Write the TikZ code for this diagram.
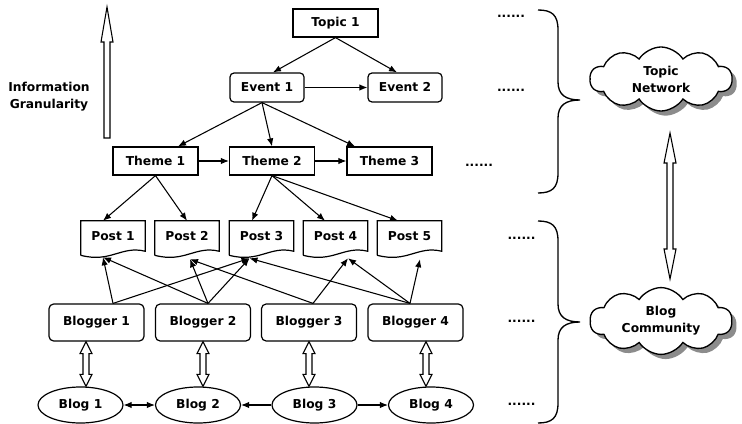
\documentclass[tikz,border=0pt]{standalone}
\usepackage{fontspec}
\setmainfont{DejaVu Sans}
\usetikzlibrary{calc,arrows.meta,shapes.geometric,shapes.symbols,shadows}
\newcommand{\pxu}{0.75pt}
\newcommand{\dhollow}[3]{%
  \draw[hollow] (#1) -- ($(#1)+(6,#3)$) -- ($(#1)+(3,#3)$) -- ($(#2)+(3,-#3)$) -- ($(#2)+(6,-#3)$) -- (#2)
    -- ($(#2)+(-6,-#3)$) -- ($(#2)+(-3,-#3)$) -- ($(#1)+(-3,#3)$) -- ($(#1)+(-6,#3)$) -- cycle;}
\newcommand{\postoutline}[1]{%
  \draw[line width=0.9pt,line join=miter] ($(#1.south west)+(0,4)$) -- (#1.north west) -- (#1.north east) -- (#1.south east)
    .. controls +(-24,-6) and +(30,8) .. ($(#1.south west)+(0,4)$);}
\newcommand{\bracepath}[3]{% top, tip, bottom (y)
  \draw[line width=1pt] (538,#1) .. controls (552,#1) and (558,#1+5) .. (558,#1+20) -- (558,#2-18)
    .. controls (558,#2-5) and (566,#2) .. (580,#2) .. controls (566,#2) and (558,#2+5) .. (558,#2+18)
    -- (558,#3-20) .. controls (558,#3-5) and (552,#3) .. (538,#3);}
\begin{document}
\begin{tikzpicture}[x=0.75pt,y=-0.75pt,
  every node/.style={font=\bfseries\fontsize{9.2}{12.75}\selectfont},
  box/.style={draw,line width=0.9pt,inner sep=0pt},
  topicbox/.style={box,minimum width=85*\pxu,minimum height=28*\pxu},
  eventbox/.style={box,rounded corners=3pt,minimum width=74*\pxu,minimum height=29*\pxu},
  themebox/.style={box,minimum width=85*\pxu,minimum height=28*\pxu},
  postbox/.style={inner sep=0pt,minimum width=64*\pxu,minimum height=30*\pxu},
  bloggerbox/.style={box,rounded corners=3.5pt,minimum width=95*\pxu,minimum height=37*\pxu},
  blogbox/.style={box,ellipse,minimum width=85*\pxu,minimum height=36*\pxu},
  cloudnode/.style={draw,line width=1pt,fill=white,cloud,cloud puffs=10,cloud puff arc=115,aspect=2.2,
     minimum width=142*\pxu,minimum height=64*\pxu,inner sep=0pt,align=center,
     drop shadow={shadow xshift=3.5pt,shadow yshift=-3.5pt,fill=black!45,opacity=1}},
  dots/.style={inner sep=0pt},
  arr/.style={line width=0.8pt,-{Latex[length=6pt,width=4.8pt]}},
  darr/.style={line width=0.8pt,{Latex[length=6pt,width=4.8pt]}-{Latex[length=6pt,width=4.8pt]}},
  hollow/.style={draw,line width=0.8pt,fill=white,line join=miter}]
\useasboundingbox (0,0) rectangle (742,424);

% nodes
\node[topicbox] (T1) at (335.5,23) {Topic 1};
\node[eventbox] (E1) at (267,87.5) {Event 1};
\node[eventbox] (E2) at (405,87.5) {Event 2};
\node[themebox] (H1) at (155.5,161) {Theme 1};
\node[themebox] (H2) at (272,161) {Theme 2};
\node[themebox] (H3) at (389.5,161) {Theme 3};
\node[postbox] (P1) at (113,236) {Post 1};
\node[postbox] (P2) at (187,236) {Post 2};
\node[postbox] (P3) at (261.5,236) {Post 3};
\node[postbox] (P4) at (335.5,236) {Post 4};
\node[postbox] (P5) at (409.5,236) {Post 5};
\postoutline{P1}\postoutline{P2}\postoutline{P3}\postoutline{P4}\postoutline{P5}
\node[bloggerbox] (B1) at (96.5,322.5) {Blogger 1};
\node[bloggerbox] (B2) at (203,322.5) {Blogger 2};
\node[bloggerbox] (B3) at (309,322.5) {Blogger 3};
\node[bloggerbox] (B4) at (415.5,322.5) {Blogger 4};
\node[blogbox] (G1) at (80.5,405) {Blog 1};
\node[blogbox] (G2) at (198,405) {Blog 2};
\node[blogbox] (G3) at (314.5,405) {Blog 3};
\node[blogbox] (G4) at (431,405) {Blog 4};

\node[cloudnode] (TN) at (661,79) {Topic\\Network};
\node[cloudnode] (BC) at (661,321) {Blog\\Community};

\node[align=center] (IG) at (49,97) {Information\\Granularity};

\node[dots] (d1) at (511,16) {......};
\node[dots] (d2) at (511,90) {......};
\node[dots] (d3) at (479,165) {......};
\node[dots] (d4) at (521.5,238) {......};
\node[dots] (d5) at (521.5,321) {......};
\node[dots] (d6) at (521.5,404) {......};

% braces
\bracepath{10}{100}{193}
\bracepath{221}{322}{423}

% tree edges
\draw[arr] (T1.south) -- ($(E1.north)+(6,0)$);
\draw[arr] (T1.south) -- ($(E2.north)+(-8,0)$);
\draw[arr] (E1.east) -- (E2.west);
\draw[arr] ($(E1.south)+(-5,0)$) -- ($(H1.north)+(22.5,0)$);
\draw[arr] ($(E1.south)+(-5,0)$) -- (H2.north);
\draw[arr] ($(E1.south)+(-5,0)$) -- ($(H3.north)+(-34.5,0)$);
\draw[arr] (H1.east) -- (H2.west);
\draw[arr] (H2.east) -- (H3.west);
\draw[arr] (H1.south) -- ($(P1.north)+(-10,0)$);
\draw[arr] (H1.south) -- (P2.north);
\draw[arr] (H2.south) -- ($(P3.north)+(-9.5,0)$);
\draw[arr] (H2.south) -- ($(P4.north)+(-10.5,0)$);
\draw[arr] (H2.south) -- ($(P5.north)+(-11.5,0)$);

% blogger -> post
\coordinate (b1t) at ($(B1.north)+(16.5,0)$);
\coordinate (b2t) at ($(B2.north)+(5,0)$);
\coordinate (b3t) at ($(B3.north)+(4,0)$);
\coordinate (b4t) at ($(B4.north)+(-5.5,0)$);
\coordinate (p1b) at ($(P1.south)+(-10,6)$);
\coordinate (p2b) at ($(P2.south)+(3,8)$);
\coordinate (p3b) at ($(P3.south)+(-12,7)$);
\coordinate (p4b) at ($(P4.south)+(12.5,7)$);
\coordinate (p5b) at ($(P5.south)+(10.5,8)$);
\draw[arr] (b1t) -- (p1b);
\draw[arr] (b1t) -- (p3b);
\draw[arr] (b2t) -- (p1b);
\draw[arr] (b2t) -- (p2b);
\draw[arr] (b2t) -- (p3b);
\draw[arr] (b3t) -- (p2b);
\draw[arr] (b3t) -- (p4b);
\draw[arr] (b4t) -- (p3b);
\draw[arr] (b4t) -- (p4b);
\draw[arr] (b4t) -- (p5b);

% blog links
\draw[darr] (G1.east) -- (G2.west);
\draw[arr] (G3.west) -- (G2.east);
\draw[arr] (G3.east) -- (G4.west);

% blogger <-> blog hollow arrows
\coordinate (a1) at ($(B1.south)+(-10.5,0)$); \coordinate (a1b) at (a1 |- G1.north);
\coordinate (a2) at (B2.south); \coordinate (a2b) at (a2 |- G2.north);
\coordinate (a3) at (B3.south); \coordinate (a3b) at (a3 |- G3.north);
\coordinate (a4) at ($(B4.south)+(10.5,0)$); \coordinate (a4b) at (a4 |- G4.north);
\dhollow{a1}{a1b}{12}
\dhollow{a2}{a2b}{12}
\dhollow{a3}{a3b}{12}
\dhollow{a4}{a4b}{12}

% cloud link
\coordinate (c1) at (670,133);
\coordinate (c2) at (670,279);
\dhollow{c1}{c2}{30}

% information granularity arrow
\draw[hollow] (107,7) -- (113,42) -- (110,42) -- (110,138) -- (104,138) -- (104,42) -- (101,42) -- cycle;
\end{tikzpicture}
\end{document}
